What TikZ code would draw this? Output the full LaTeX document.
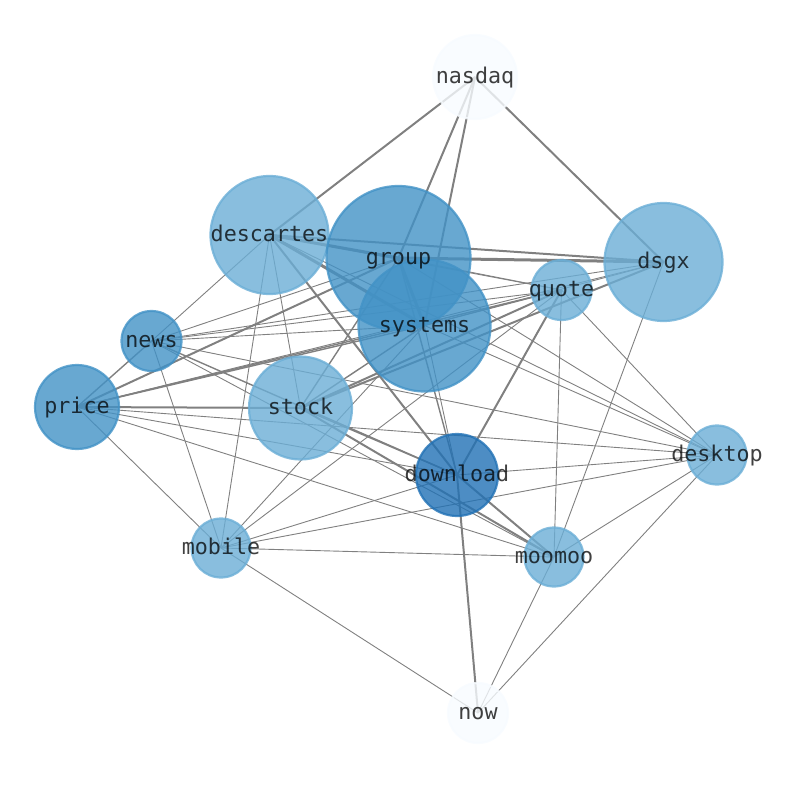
\documentclass[tikz,border=0pt]{standalone}
\usepackage{fontspec}
\setmonofont{DejaVu Sans Mono}
\pgfdeclarelayer{bg}
\pgfsetlayers{bg,main}
\definecolor{lb}{HTML}{6BAED6}
\definecolor{mb}{HTML}{4292C6}
\definecolor{db}{HTML}{2171B5}
\definecolor{wb}{HTML}{F7FBFF}
\definecolor{eg}{HTML}{808080}
\begin{document}
\begin{tikzpicture}[x=1pt,y=-1pt,
  vtx/.style={circle, inner sep=0pt, line width=2.2pt, fill opacity=0.8, draw opacity=0.8},
  light/.style={vtx, fill=lb, draw=lb},
  mid/.style={vtx, fill=mb, draw=mb},
  dark/.style={vtx, fill=db, draw=db},
  pale/.style={vtx, fill=wb, draw=wb},
  lbl/.style={font=\ttfamily\fontsize{21.7}{26}\selectfont, text=black, text opacity=0.75, inner sep=0pt, anchor=base, yshift=-6.5pt},
  e1/.style={draw=eg, line width=0.9pt},
  e2/.style={draw=eg, line width=1.4pt},
  e3/.style={draw=eg, line width=2pt},
  e4/.style={draw=eg, line width=3pt}]
\useasboundingbox (0,0) rectangle (794,790);
% circles
\node[pale,  minimum size=84pt]  (nasdaq)    at (475,77)  {};
\node[light, minimum size=118pt] (descartes) at (269.5,235) {};
\node[light, minimum size=118pt] (dsgx)      at (663.5,262) {};
\node[mid,   minimum size=144pt] (group)     at (398.5,258) {};
\node[mid,   minimum size=132pt] (systems)   at (424.5,325.5) {};
\node[light, minimum size=60pt]  (quote)     at (561.5,290) {};
\node[mid,   minimum size=60pt]  (news)      at (151.5,341) {};
\node[mid,   minimum size=84pt]  (price)     at (77,407)  {};
\node[light, minimum size=103pt] (stock)     at (300.5,408) {};
\node[dark,  minimum size=82pt]  (download)  at (457,475) {};
\node[light, minimum size=59pt]  (desktop)   at (717,455) {};
\node[light, minimum size=59pt]  (mobile)    at (221,548) {};
\node[light, minimum size=59pt]  (moomoo)    at (554,557) {};
\node[pale,  minimum size=60pt]  (now)       at (478,713) {};
% labels
\foreach \n in {nasdaq,descartes,dsgx,group,systems,quote,news,price,stock,download,desktop,mobile,moomoo,now}
  \node[lbl] (\n-t) at (\n.center) {\n};
% edges
\begin{pgfonlayer}{bg}
\foreach \a/\b in {descartes/group, descartes/systems, group/dsgx, group/systems}
  \draw[e4] (\a.center) -- (\b.center);
\foreach \a/\b in {price/stock, descartes/download, download/quote, download/now,
  nasdaq/descartes, nasdaq/group, nasdaq/systems, nasdaq/dsgx, descartes/dsgx,
  stock/moomoo, download/moomoo, price/group, stock/quote, stock/dsgx}
  \draw[e3] (\a.center) -- (\b.center);
\foreach \a/\b in {price/systems, price/quote, stock/group, stock/download, news/price,
  news/download, stock/systems, group/download}
  \draw[e2] (\a.center) -- (\b.center);
\foreach \a/\b in {descartes/news, descartes/stock, descartes/mobile, descartes/quote,
  descartes/desktop, news/group, news/systems, news/quote, news/dsgx, news/moomoo,
  news/desktop, news/mobile, price/dsgx, price/download, price/moomoo, price/desktop,
  price/mobile, mobile/systems, mobile/quote, mobile/download, mobile/desktop,
  mobile/moomoo, mobile/now, group/quote, group/desktop, systems/download,
  systems/desktop, systems/dsgx, systems/quote, quote/desktop, quote/moomoo,
  dsgx/moomoo, desktop/download, desktop/moomoo, desktop/now, moomoo/now}
  \draw[e1] (\a.center) -- (\b.center);
\end{pgfonlayer}
\end{tikzpicture}
\end{document}
